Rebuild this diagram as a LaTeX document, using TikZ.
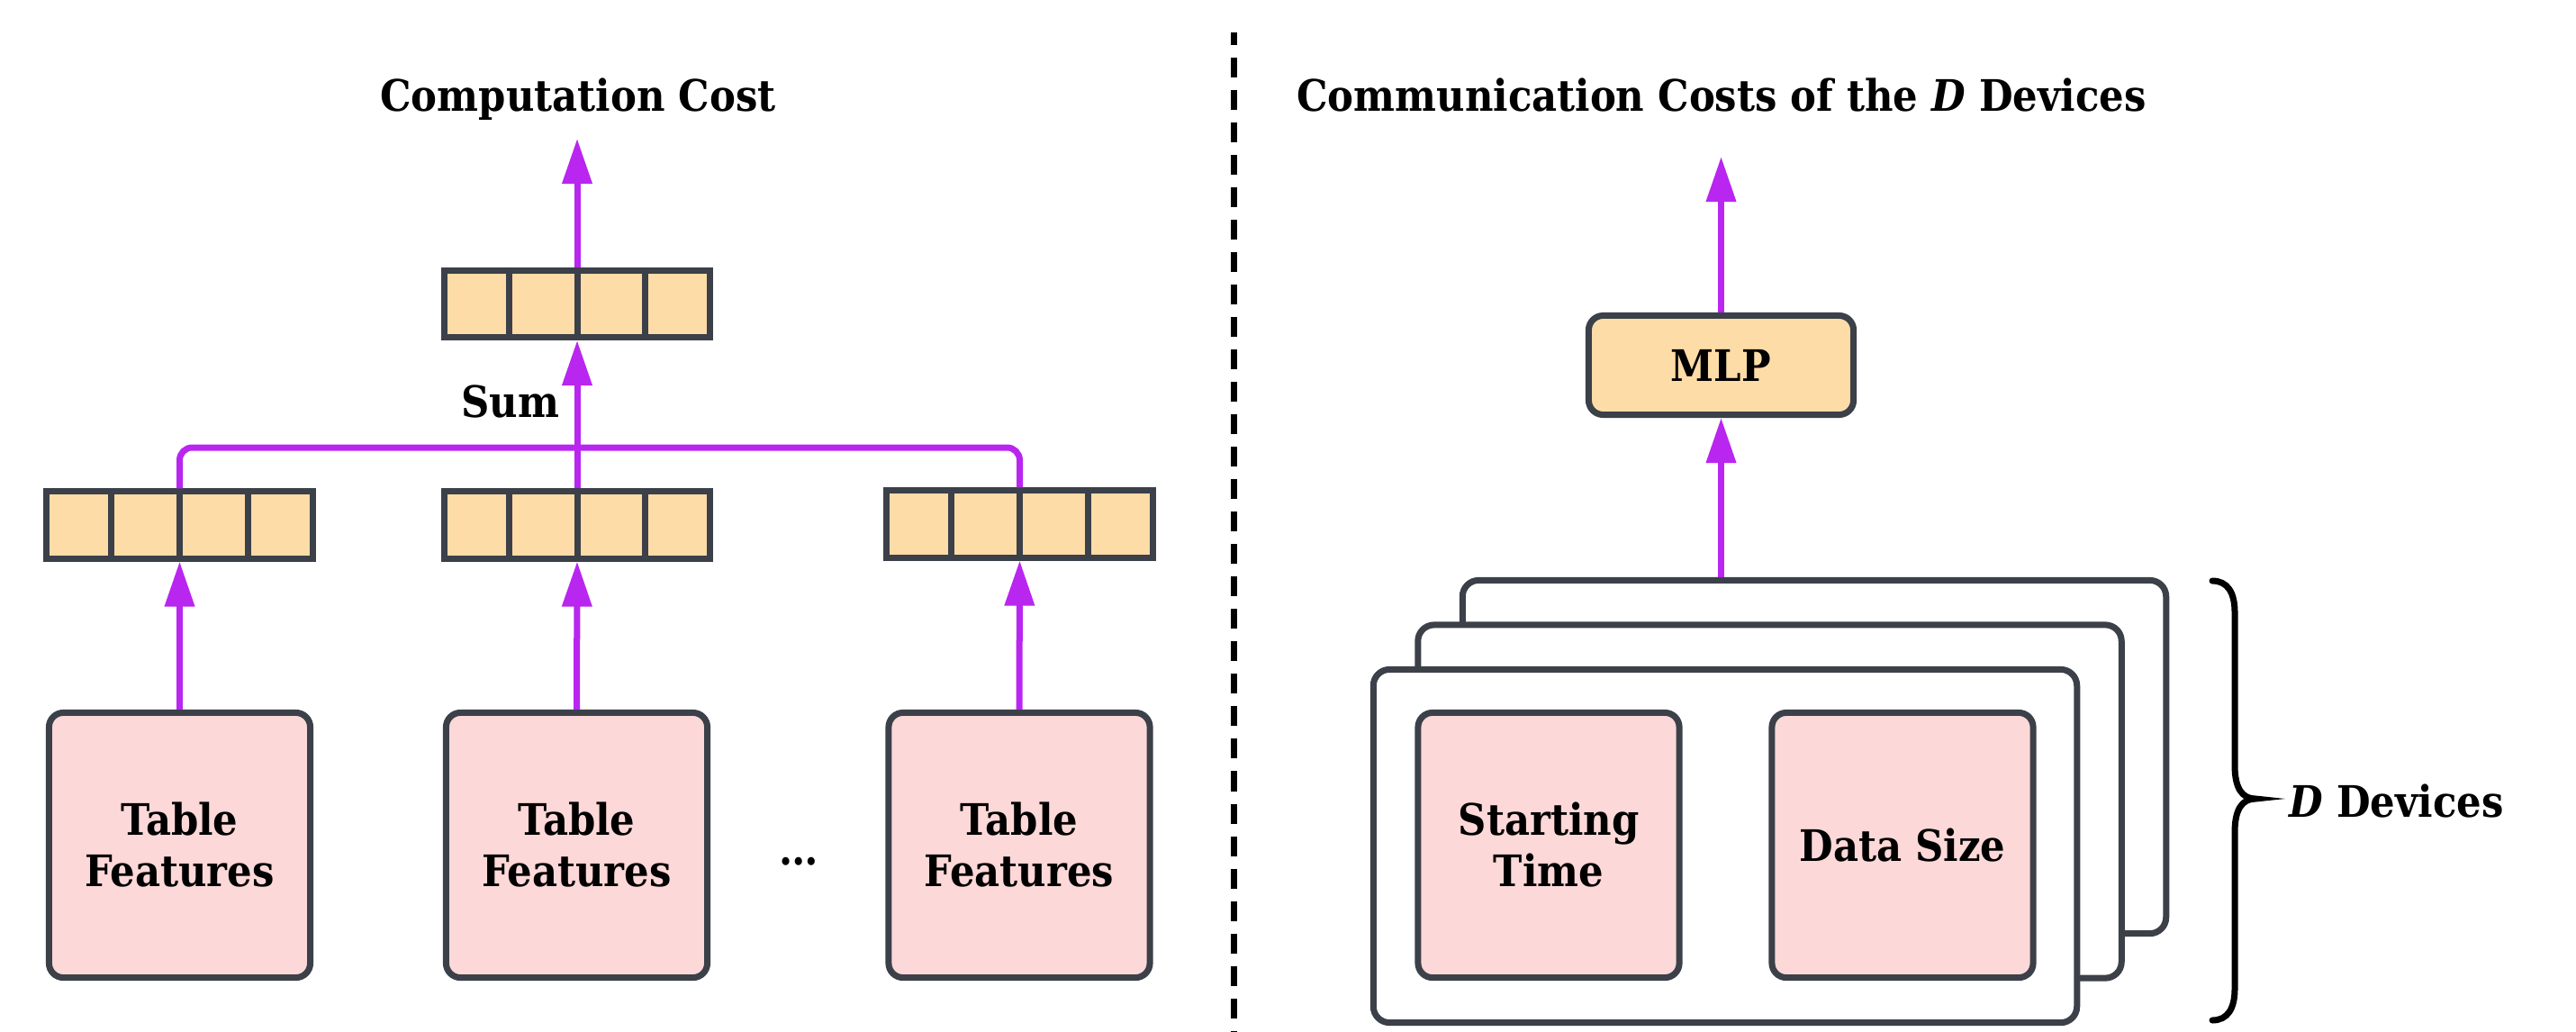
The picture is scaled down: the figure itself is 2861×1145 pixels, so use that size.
\documentclass[tikz,border=0pt]{standalone}
\usepackage{fontspec}
\setmainfont{DejaVu Serif Condensed}
\usetikzlibrary{arrows.meta,calc}

\definecolor{edge}{HTML}{3B4049}
\definecolor{vecfill}{HTML}{FDDCA7}
\definecolor{featfill}{HTML}{FDD8D8}
\definecolor{flow}{HTML}{B926F0}

\begin{document}
\begin{tikzpicture}[x=0.01cm,y=-0.01cm,
  lbl/.style={font=\fontsize{13.7}{16.2}\selectfont\bfseries, inner sep=0pt},
  vecbox/.style={draw=edge, fill=vecfill, line width=0.07cm, minimum width=2.95cm, minimum height=0.74cm, inner sep=0pt},
  featbox/.style={draw=edge, fill=featfill, line width=0.07cm, rounded corners=0.16cm, minimum width=2.90cm, minimum height=2.94cm, align=center, lbl},
  mlpbox/.style={featbox, fill=vecfill, minimum width=2.94cm, minimum height=1.10cm},
  card/.style={draw=edge, fill=white, line width=0.07cm, rounded corners=0.18cm, minimum width=7.81cm, minimum height=3.92cm},
  flowline/.style={draw=flow, line width=0.07cm},
  flowarrow/.style={flowline, -{Triangle[length=0.5cm,width=0.32cm]}},
]
\useasboundingbox (0,0) rectangle (2861,1145);

% ---------- left: computation cost ----------
\node[vecbox] (vtop) at (641,337.5) {};
\node[vecbox] (vl) at (199.5,583) {};
\node[vecbox] (vm) at (641,583) {};
\node[vecbox] (vr) at (1132.5,582) {};
\foreach \v in {vtop,vl,vm,vr}
  \foreach \i in {1,2,3}
    \draw[edge, line width=0.07cm] ($(\v.north west)!\i/4!(\v.north east)$) -- ($(\v.south west)!\i/4!(\v.south east)$);

\node[featbox] (f1) at (199.5,938.5) {Table\\Features};
\node[featbox] (f2) at (640.5,938.5) {Table\\Features};
\node[featbox] (f3) at (1132,938.5) {Table\\Features};
\node[lbl, anchor=base] (dots) at (887,960) {\ldots};

\draw[flowarrow] (f1.north) -- (vl.south);
\draw[flowarrow] (f2.north) -- (vm.south);
\draw[flowarrow] (f3.north) -- (vr.south);

\coordinate (busy) at (641,497);
\draw[flowline, rounded corners=0.14cm] (vl.north) -- (vl.north |- busy) -- (vr.north |- busy) -- (vr.north);
\draw[flowarrow] (vm.north) -- (vtop.south);
\node[lbl, anchor=base] (sum) at (567,463) {Sum};

\coordinate (outC) at (641,154);
\draw[flowarrow] (vtop.north) -- (outC);
\node[lbl, anchor=base] (tc) at (642,123) {Computation Cost};

% ---------- separator ----------
\coordinate (dtop) at (1370,36);
\coordinate (dbot) at (1370,1145);
\draw[black, line width=0.07cm, dash pattern=on 0.22cm off 0.14cm, dash phase=0.08cm] (dtop) -- (dbot);

% ---------- right: communication costs ----------
\node[card] (c3) at (2015,840.5) {};
\node[card] (c2) at (1965.5,890) {};
\node[card] (c1) at (1916,939.5) {};
\node[featbox] (st) at (1720,938.5) {Starting\\Time};
\node[featbox] (ds) at (2113,938.5) {Data Size};

\node[mlpbox] (mlp) at (1911.5,405.5) {MLP};
\draw[flowarrow] (mlp.south |- c3.north) -- (mlp.south);
\coordinate (outR) at (1911.5,174);
\draw[flowarrow] (mlp.north) -- (outR);
\node[lbl, anchor=base] (tr) at (1912,123) {Communication Costs of the \textit{D} Devices};

% brace spanning the device stack
\draw[black, line width=0.07cm, line cap=round]
  (2457,645) .. controls (2474,645) and (2482,658) .. (2482,680)
  -- (2482,850) .. controls (2482,875) and (2490,887) .. (2505,887)
  .. controls (2490,887) and (2482,899) .. (2482,924)
  -- (2482,1098) .. controls (2482,1120) and (2474,1133) .. (2457,1133);
\node[lbl, anchor=base west] (dd) at (2542,907) {\textit{D} Devices};
\end{tikzpicture}
\end{document}
